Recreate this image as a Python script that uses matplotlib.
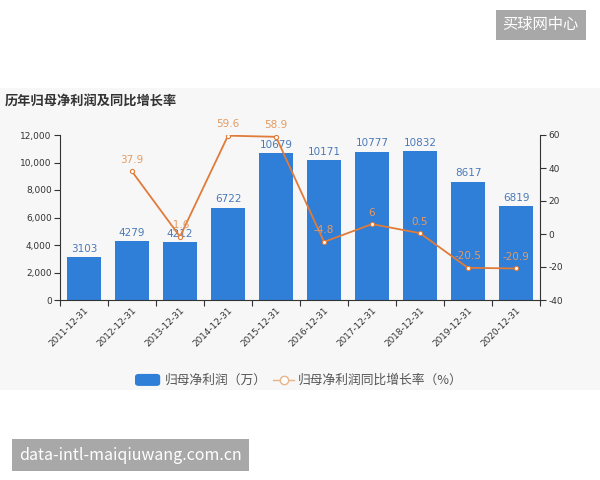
import matplotlib
matplotlib.use("Agg")
import matplotlib.pyplot as plt
from matplotlib.patches import Rectangle, FancyBboxPatch

plt.rcParams['font.family'] = ['DejaVu Sans', 'Noto Sans CJK SC']
cjk = ['Noto Sans CJK SC', 'DejaVu Sans']

# 数据
dates = ["2011-12-31", "2012-12-31", "2013-12-31", "2014-12-31", "2015-12-31",
         "2016-12-31", "2017-12-31", "2018-12-31", "2019-12-31", "2020-12-31"]
profit = [3103, 4279, 4212, 6722, 10679, 10171, 10777, 10832, 8617, 6819]
growth = [None, 37.9, -1.6, 59.6, 58.9, -4.8, 6, 0.5, -20.5, -20.9]

bar_color = "#2f7ed8"
line_color = "#e07b39"
axis_color = "#333333"

fig = plt.figure(figsize=(6, 4.8), dpi=100)
fig.patch.set_facecolor("white")

# 灰色背景区域
fig.patches.append(Rectangle((0, 0.1875), 1, 0.629, transform=fig.transFigure,
                             facecolor="#f7f7f7", edgecolor="none", zorder=-10))

ax = fig.add_axes([0.1, 0.375, 0.8, 0.34375])
ax.set_facecolor("none")
x = list(range(len(dates)))
bars = ax.bar(x, profit, width=0.7, color=bar_color, zorder=2)
ax.set_ylim(0, 12000)
ax.set_yticks(range(0, 12001, 2000))
ax.set_yticklabels([f"{v:,}" for v in range(0, 12001, 2000)], fontsize=6.5, color=axis_color)
ax.set_xlim(-0.5, len(dates) - 0.5)
ax.set_xticks([i - 0.5 for i in x] + [len(dates) - 0.5])
ax.set_xticklabels([])
ax.set_xticks(x, minor=True)
ax.set_xticklabels(dates, minor=True, rotation=45, ha="right", rotation_mode="anchor",
                   fontsize=6.4, color=axis_color)
ax.tick_params(axis="x", which="minor", length=0, pad=4)
ax.tick_params(axis="x", which="major", length=4, color=axis_color)
ax.tick_params(axis="y", length=4, color=axis_color, pad=2)
ax.spines["top"].set_visible(False)
ax.spines["right"].set_visible(False)
for s in ["left", "bottom"]:
    ax.spines[s].set_color(axis_color)
    ax.spines[s].set_linewidth(0.8)

for i, v in enumerate(profit):
    ax.text(i, v + 250, str(v), ha="center", va="bottom", fontsize=7.5, color="#4a7ab8", zorder=5)

ax2 = ax.twinx()
ax2.set_ylim(-40, 60)
ax2.set_yticks(range(-40, 61, 20))
ax2.set_yticklabels([str(v) for v in range(-40, 61, 20)], fontsize=6.5, color=axis_color)
ax2.tick_params(axis="y", length=4, color=axis_color, pad=2)
for s in ["top", "left", "bottom"]:
    ax2.spines[s].set_visible(False)
ax2.spines["right"].set_color(axis_color)
ax2.spines["right"].set_linewidth(0.8)

gx = [i for i, g in enumerate(growth) if g is not None]
gy = [g for g in growth if g is not None]
ax2.plot(gx, gy, color=line_color, linewidth=1.3, marker="o", markersize=3,
         markerfacecolor="white", markeredgecolor=line_color, markeredgewidth=0.8, zorder=3)
for i, g in zip(gx, gy):
    ax2.text(i, g + 4, f"{g:g}", ha="center", va="bottom", fontsize=7.5,
             color="#e59a63", zorder=5)

# 标题
fig.text(0.008, 0.79, "历年归母净利润及同比增长率", fontsize=9.5, fontweight="bold",
         color="#333333", ha="left", va="center", family=cjk)

# 图例
fig.patches.append(FancyBboxPatch((0.228, 0.199), 0.036, 0.019,
                                  boxstyle="round,pad=0.003,rounding_size=0.006",
                                  transform=fig.transFigure,
                                  facecolor=bar_color, edgecolor="none"))
fig.text(0.275, 0.208, "归母净利润（万）", fontsize=9.2, color="#555555", va="center", family=cjk)
fig.lines.append(plt.Line2D([0.455, 0.49], [0.208, 0.208], transform=fig.transFigure,
                            color="#e8b48a", linewidth=1))
fig.lines.append(plt.Line2D([0.4725], [0.208], transform=fig.transFigure,
                            color="#e8b48a", marker="o", markersize=6,
                            markerfacecolor="white", markeredgecolor="#e8b48a"))
fig.text(0.497, 0.208, "归母净利润同比增长率（%）", fontsize=9.2, color="#555555",
         va="center", family=cjk)

# 水印
fig.text(0.901, 0.948, "买球网中心", fontsize=11, color="white", ha="center", va="center",
         family=cjk,
         bbox=dict(boxstyle="square,pad=0.45", facecolor="#a8a8a8", edgecolor="none"))
fig.text(0.218, 0.052, "data-intl-maiqiuwang.com.cn", fontsize=11.5, color="white",
         ha="center", va="center", fontweight="light", family=cjk,
         bbox=dict(boxstyle="square,pad=0.45", facecolor="#a8a8a8", edgecolor="none"))

fig.savefig("out.png", dpi=100)
